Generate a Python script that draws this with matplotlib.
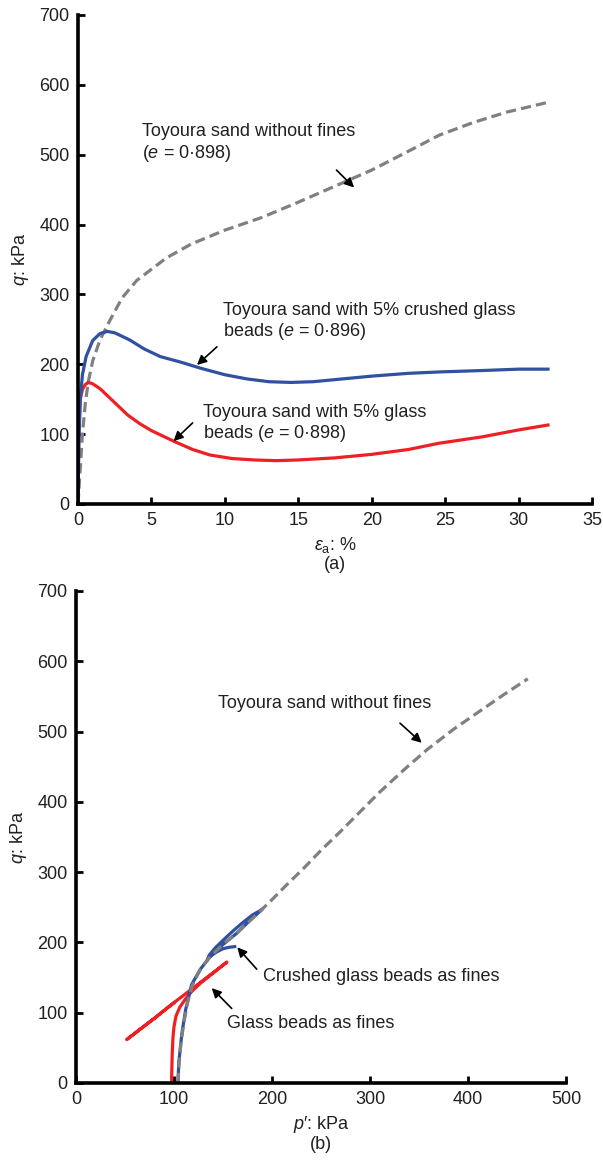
import matplotlib
matplotlib.use('Agg')
import matplotlib.pyplot as plt

plt.rcParams['font.family'] = ['Liberation Sans', 'DejaVu Sans']
plt.rcParams['mathtext.fontset'] = 'custom'
plt.rcParams['mathtext.rm'] = 'Liberation Sans'
plt.rcParams['mathtext.it'] = 'Liberation Sans:italic'
plt.rcParams['font.size'] = 13

TXT = '#231f20'
GREY = '#808080'
BLUE = '#3050a0'
RED = '#ee2024'

# (a) deviator stress vs axial strain
eps_sand = [0, 0.15, 0.3, 0.5, 0.7, 1.0, 1.5, 2.2, 3.0, 4.0, 5.0, 6.0, 7.7, 10,
            12.5, 15, 17.5, 20, 22.5, 24.6, 26.9, 29.2, 31, 32]
q_sand = [0, 50, 100, 145, 175, 205, 235, 264, 295, 320, 336, 352, 372, 392,
          410, 432, 455, 478, 505, 528, 546, 561, 570, 575]

eps_crushed = [0, 0.05, 0.15, 0.3, 0.55, 1.0, 1.5, 2.0, 2.5, 3.5, 4.5, 5.6, 7,
               8.4, 10, 11.5, 13, 14.5, 16, 18, 20, 22.5, 24.6, 27.5, 30, 32]
q_crushed = [0, 80, 150, 185, 211, 234, 244, 247, 245, 235, 222, 211, 203,
             194, 185, 179, 175, 174, 175, 179, 183, 187, 189, 191, 193, 193]

eps_glass = [0, 0.05, 0.15, 0.3, 0.5, 0.7, 1.0, 1.5, 2.0, 2.7, 3.4, 4.2, 5.0,
             6.5, 7.8, 9.0, 10.5, 12, 13.5, 15, 17.5, 20, 22.5, 24.6, 27.5, 30, 32]
q_glass = [0, 100, 150, 164, 171, 174, 172, 165, 155, 141, 127, 115, 105, 90,
           78, 70, 65, 63, 62, 63, 66, 71, 78, 87, 96, 106, 113]

# (b) stress paths
p_sand = [104, 105, 107, 110, 114, 119, 127, 137, 150, 164, 180, 198, 215, 232,
          250, 270, 290, 310, 335, 358, 385, 412, 437, 461]
qp_sand = [0, 25, 55, 85, 115, 140, 162, 180, 197, 213, 234, 258, 282, 305,
           331, 358, 386, 414, 446, 474, 503, 529, 553, 575]

p_crushed = [104, 105, 108, 112, 118, 127, 137, 150, 164, 178, 190,
             180, 170, 160, 150, 142, 136, 134,
             137, 143, 150, 156, 162]
qp_crushed = [0, 30, 70, 105, 140, 162, 180, 197, 213, 232, 247,
              239, 228, 216, 203, 192, 182, 175,
              180, 186, 191, 193, 194]

p_glass = [97.5, 97.8, 98.3, 99, 100, 102, 106, 112, 118, 127, 136, 145, 154,
           140, 125, 110, 95, 80, 65, 52,
           65, 80, 90, 100]
qp_glass = [0, 20, 45, 65, 80, 95, 108, 120, 130, 142, 152, 162, 172,
            157, 141, 125, 109, 92, 76, 62,
            76, 92, 103, 114]

fig = plt.figure(figsize=(6.03, 11.62), dpi=100)
ax1 = fig.add_axes([0.1294, 0.5663, 0.8524, 0.4208])
ax2 = fig.add_axes([0.1260, 0.0680, 0.8126, 0.4234])

lw = 2.3
ax1.plot(eps_sand, q_sand, color=GREY, lw=lw, dashes=(3.2, 1.6))
ax1.plot(eps_glass, q_glass, color=RED, lw=lw)
ax1.plot(eps_crushed, q_crushed, color=BLUE, lw=lw)

ax2.plot(p_glass, qp_glass, color=RED, lw=lw)
ax2.plot(p_crushed, qp_crushed, color=BLUE, lw=lw)
ax2.plot(p_sand, qp_sand, color=GREY, lw=lw, dashes=(3.2, 1.6))

arrow = dict(arrowstyle='-|>', color='black', lw=1.2, mutation_scale=14,
             shrinkA=0, shrinkB=0)


def note(ax, text, xy, tip, start):
    ax.text(xy[0], xy[1], text, ha='left', va='center', color=TXT,
            fontsize=13, linespacing=1.15)
    ax.annotate('', xy=tip, xytext=start, arrowprops=arrow)


note(ax1, 'Toyoura sand without fines\n($e$ = 0·898)', (4.36, 516),
     (18.8, 453), (17.6, 478))
note(ax1, 'Toyoura sand with 5% crushed glass\nbeads ($e$ = 0·896)', (9.85, 260),
     (8.1, 199), (9.46, 225))
note(ax1, 'Toyoura sand with 5% glass\nbeads ($e$ = 0·898)', (8.49, 115),
     (6.5, 90), (7.8, 116))

note(ax2, 'Toyoura sand without fines', (144.9, 540),
     (352.8, 484), (330.6, 512))
note(ax2, 'Crushed glass beads as fines', (190.5, 152),
     (164.6, 193), (184.4, 162))
note(ax2, 'Glass beads as fines', (154, 85),
     (138.5, 135), (158.9, 106))

ax1.set_xlim(0, 35)
ax1.set_xticks(range(0, 36, 5))
ax2.set_xlim(0, 500)
ax2.set_xticks(range(0, 501, 100))

for ax in (ax1, ax2):
    ax.set_ylim(0, 700)
    ax.set_yticks(range(0, 701, 100))
    ax.spines['top'].set_visible(False)
    ax.spines['right'].set_visible(False)
    for s in ('left', 'bottom'):
        ax.spines[s].set_linewidth(2.6)
        ax.spines[s].set_color('black')
    ax.tick_params(direction='in', length=5, width=2, colors='black',
                   labelcolor=TXT, labelsize=13, pad=6)
    ax.set_ylabel('$q$: kPa', color=TXT, fontsize=13, labelpad=6)

ax1.set_xlabel('$\\varepsilon_\\mathrm{a}$: %\n(a)', color=TXT, fontsize=13,
               labelpad=4, linespacing=1.1)
ax2.set_xlabel('$p$′: kPa\n(b)', color=TXT, fontsize=13, labelpad=4,
               linespacing=1.1)

fig.savefig('out.png', dpi=100)
